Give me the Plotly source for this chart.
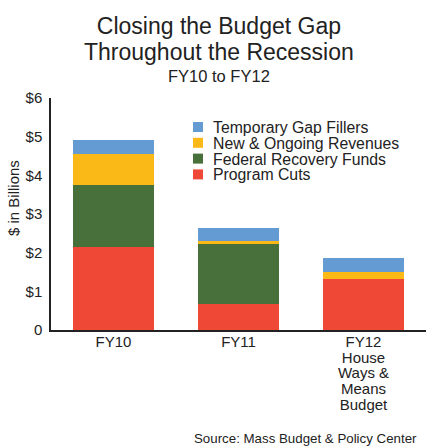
import plotly.graph_objects as go

categories = ["FY10", "FY11", "FY12"]
category_labels = [["FY10"], ["FY11"], ["FY12", "House", "Ways &", "Means", "Budget"]]
program_cuts = [2.15, 0.68, 1.33]
federal_recovery = [1.60, 1.56, 0.0]
new_revenues = [0.80, 0.05, 0.18]
temporary_fillers = [0.36, 0.34, 0.36]
y_ticks = [0, 1, 2, 3, 4, 5, 6]
y_tick_labels = ["0", "$1", "$2", "$3", "$4", "$5", "$6"]

series = [
    ("Program Cuts", program_cuts, "#EF4836"),
    ("Federal Recovery Funds", federal_recovery, "#47703A"),
    ("New & Ongoing Revenues", new_revenues, "#FBB917"),
    ("Temporary Gap Fillers", temporary_fillers, "#659BD3"),
]

W, H = 426, 448
ML, MR, MT, MB = 51, 0, 98, 118
PW, PH = W - ML - MR, H - MT - MB
FONT = "Arial"
TXT = "#222222"


def px(x):
    return (x - ML) / PW


def py(y):
    return 1 - (y - MT) / PH


def sized(lines, size):
    return "<br>".join(f'<span style="font-size:{size}px">{t}</span>' for t in lines)


fig = go.Figure()
for name, vals, color in series:
    fig.add_trace(go.Bar(x=categories, y=vals, name=name, marker_color=color,
                         marker_line_width=0, showlegend=False, hoverinfo="skip"))

fig.update_layout(
    width=W, height=H,
    barmode="stack", bargap=0.35,
    paper_bgcolor="white", plot_bgcolor="white",
    margin=dict(l=ML, r=MR, t=MT, b=MB, autoexpand=False),
    font=dict(family=FONT, color=TXT, size=14),
    showlegend=False,
    yaxis=dict(range=[0, 6], tickvals=y_ticks, ticktext=y_tick_labels,
               showgrid=False, zeroline=False, showline=True,
               linecolor="#222222", linewidth=1.5, ticks="",
               tickfont=dict(size=15), ticklabelstandoff=4, automargin=False),
    xaxis=dict(showgrid=False, showline=True, linecolor="#222222", linewidth=1.5,
               ticks="", tickfont=dict(size=12.3), automargin=False,
               tickvals=categories,
               ticktext=[sized(lbl, 15) for lbl in category_labels]),
)

# titles
fig.add_annotation(text=sized(["Closing the Budget Gap", "Throughout the Recession"], 23),
                   xref="paper", yref="paper", x=px(219), y=py(39),
                   showarrow=False, xanchor="center", yanchor="middle",
                   font=dict(size=19.8, family=FONT, color=TXT))
fig.add_annotation(text="FY10 to FY12", xref="paper", yref="paper", x=px(219), y=py(76),
                   showarrow=False, xanchor="center", yanchor="middle",
                   font=dict(size=16.5, family=FONT, color=TXT))

# y axis title
fig.add_annotation(text="$ in Billions", xref="paper", yref="paper", x=px(13), y=py(198),
                   textangle=-90, showarrow=False, xanchor="center", yanchor="middle",
                   font=dict(size=15, family=FONT, color=TXT))

# legend (top to bottom: reversed stacking order)
legend_items = list(reversed(series))
row = 15.8
top_center = 127
for i, (name, vals, color) in enumerate(legend_items):
    yc = top_center + i * row
    fig.add_shape(type="rect", xref="paper", yref="paper",
                  x0=px(193), x1=px(203), y0=py(yc + 5), y1=py(yc - 5),
                  fillcolor=color, line_width=0)
fig.add_annotation(text=sized([n for n, _, _ in legend_items], 15.8),
                   xref="paper", yref="paper", x=px(211),
                   y=py(top_center + row * (len(legend_items) - 1) / 2),
                   showarrow=False, xanchor="left", yanchor="middle", align="left",
                   font=dict(size=row / 1.3, family=FONT, color=TXT))

fig.add_annotation(text="Source: Mass Budget & Policy Center", xref="paper", yref="paper",
                   x=px(419), y=py(438), xanchor="right", yanchor="middle", showarrow=False,
                   font=dict(size=13.3, family=FONT, color=TXT))

fig.write_html("out.html", config={"displayModeBar": False},
               post_script="document.body.style.margin='0px';")
